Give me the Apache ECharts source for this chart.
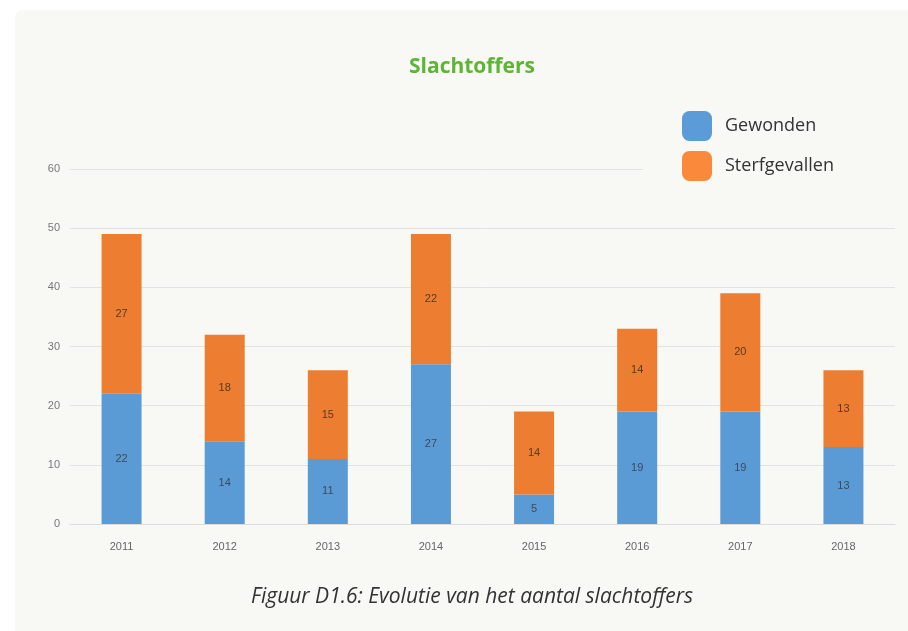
<!DOCTYPE html>
<html>
<head>
<meta charset="utf-8">
<script src="https://cdn.jsdelivr.net/npm/echarts@6/dist/echarts.min.js"></script>
<style>
    html, body { margin: 0; padding: 0; background: #ffffff; }
    .card {
        position: absolute; left: 15px; top: 10px; width: 893px; height: 621px;
        background: #f8f9f5; border-radius: 8px 0 0 0;
    }
    #chart { position: absolute; left: 0; top: 0; width: 908px; height: 631px; }
</style>
</head>
<body>
<div class="card"></div>
<div id="chart"></div>
<script>
    // gegevens
    var jaren = ['2011', '2012', '2013', '2014', '2015', '2016', '2017', '2018'];
    var gewonden = [22, 14, 11, 27, 5, 19, 19, 13];
    var sterfgevallen = [27, 18, 15, 22, 14, 14, 20, 13];

    var chart = echarts.init(document.getElementById('chart'));
    var option = {
        backgroundColor: 'transparent',
        color: ['#5b9bd5', '#ed7d31'],
        title: [
            {
                text: 'Slachtoffers',
                left: 467, textAlign: 'center',
                top: 52,
                textStyle: { color: '#5db535', fontSize: 21, fontWeight: 'bold', fontFamily: 'Open Sans' }
            },
            {
                text: 'Figuur D1.6: Evolutie van het aantal slachtoffers',
                left: 467, textAlign: 'center',
                top: 582,
                textStyle: { color: '#333333', fontSize: 21, fontWeight: 'normal', fontStyle: 'italic', fontFamily: 'Open Sans' }
            }
        ],
        legend: {
            orient: 'vertical',
            left: 643,
            top: 101,
            padding: [10, 80, 10, 39],
            backgroundColor: '#f8f9f5',
            itemWidth: 30,
            itemHeight: 30,
            itemGap: 10,
            icon: 'roundRect',
            textStyle: { fontSize: 18, color: '#333333', fontFamily: 'Open Sans', padding: [6, 0, 0, 8] },
            data: [
                { name: 'Gewonden', itemStyle: { color: '#5a9bd8' } },
                { name: 'Sterfgevallen', itemStyle: { color: '#fb893b' } }
            ]
        },
        grid: { left: 70, right: 13, top: 169, bottom: 107 },
        xAxis: {
            type: 'category',
            data: jaren,
            axisTick: { show: false },
            axisLine: { lineStyle: { color: '#dcdcdc', width: 1 } },
            axisLabel: { color: '#666666', fontSize: 11, margin: 17 }
        },
        yAxis: {
            type: 'value',
            min: 0, max: 60, interval: 10,
            axisLine: { show: false },
            axisTick: { show: false },
            axisLabel: { color: '#777777', fontSize: 11, margin: 10 },
            splitLine: { lineStyle: { color: '#e2e2e2', width: 1 } }
        },
        series: [
            {
                name: 'Gewonden',
                type: 'bar',
                stack: 'totaal',
                barWidth: 40,
                data: gewonden,
                label: { show: true, position: 'inside', color: '#3d4a5a', fontSize: 11 }
            },
            {
                name: 'Sterfgevallen',
                type: 'bar',
                stack: 'totaal',
                barWidth: 40,
                data: sterfgevallen,
                label: { show: true, position: 'inside', color: '#5a3a20', fontSize: 11 }
            }
        ]
    };
    chart.setOption(option);
</script>
</body>
</html>
